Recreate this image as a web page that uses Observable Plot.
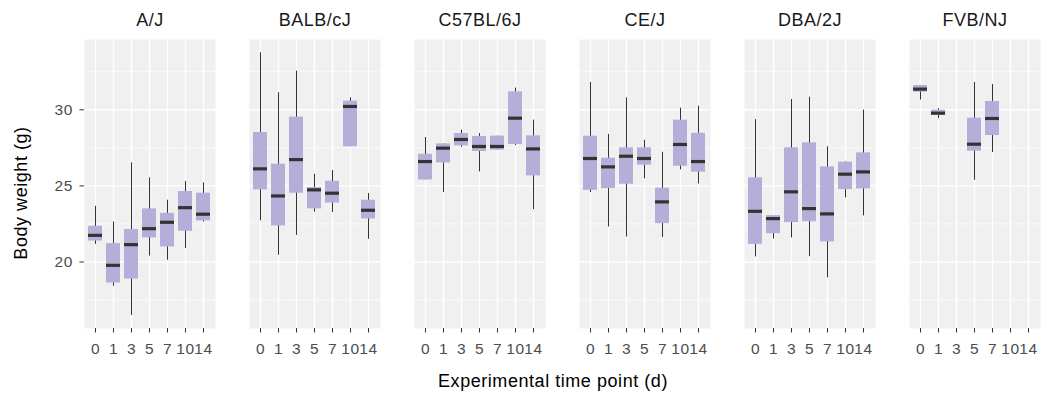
<!DOCTYPE html>
<html>
<head>
<meta charset="utf-8">
<script src="https://cdn.jsdelivr.net/npm/d3@7"></script>
<script src="https://cdn.jsdelivr.net/npm/@observablehq/plot@0.6"></script>
<style>
  html, body { margin: 0; padding: 0; background: white; }
  #wrap { width: 1042px; height: 394px; position: relative; font-family: "Liberation Sans", Arial, sans-serif; }
  #xtitle { position: absolute; left: 553px; top: 372px; transform: translateX(-50%); white-space: nowrap;
            font-size: 18px; line-height: 19px; letter-spacing: 0.55px; color: #000; }
  #ytitle { position: absolute; left: 21px; top: 193px; transform: translate(-50%, -50%) rotate(-90deg); white-space: nowrap;
            font-size: 18px; line-height: 19px; letter-spacing: 0.55px; color: #000; }
  svg [aria-label="fx-axis tick label"] text { letter-spacing: 0.5px; }
  svg [aria-label="x-axis tick label"] text, svg [aria-label="y-axis tick label"] text { letter-spacing: 0.6px; }
</style>
</head>
<body>
<div id="wrap"><div id="chart"></div><div id="ytitle">Body weight (g)</div><div id="xtitle">Experimental time point (d)</div></div>
<script>
const strains = ["A/J", "BALB/cJ", "C57BL/6J", "CE/J", "DBA/2J", "FVB/NJ"];
const timepoints = ["0", "1", "3", "5", "7", "10", "14"];
// five-number summaries per time point: [lower whisker, Q1, median, Q3, upper whisker]; null = no data
const aJ = [
  [21.16, 21.38, 21.75, 22.35, 23.66],
  [18.40, 18.62, 19.78, 21.21, 22.63],
  [16.49, 18.88, 21.14, 22.13, 26.51],
  [20.39, 21.58, 22.19, 23.49, 25.53],
  [20.11, 20.99, 22.61, 23.20, 24.06],
  [20.88, 22.02, 23.57, 24.63, 25.29],
  [22.63, 22.70, 23.14, 24.52, 25.20]];
const balbCJ = [
  [22.70, 24.74, 26.12, 28.51, 33.75],
  [20.44, 22.37, 24.34, 26.43, 31.12],
  [21.75, 24.52, 26.73, 29.52, 32.54],
  [23.27, 23.49, 24.74, 24.89, 25.77],
  [23.25, 23.88, 24.52, 25.31, 26.01],
  [27.57, 27.57, 30.22, 30.57, 30.79],
  [21.49, 22.83, 23.40, 24.06, 24.50]];
const c57BL6J = [
  [25.39, 25.39, 26.60, 27.08, 28.18],
  [24.56, 26.51, 27.48, 27.76, 27.76],
  [27.54, 27.63, 28.05, 28.44, 28.66],
  [25.92, 27.26, 27.59, 28.25, 28.44],
  [27.35, 27.35, 27.59, 28.27, 28.27],
  [27.65, 27.72, 29.45, 31.18, 31.43],
  [23.44, 25.66, 27.43, 28.29, 29.32]];
const ceJ = [
  [24.56, 24.71, 26.80, 28.27, 31.80],
  [22.30, 24.82, 26.25, 26.82, 28.38],
  [21.64, 25.11, 26.95, 27.50, 30.79],
  [25.46, 26.36, 26.80, 27.50, 28.00],
  [21.60, 22.52, 23.95, 24.85, 27.21],
  [26.05, 26.29, 27.72, 29.32, 30.11],
  [25.13, 25.90, 26.60, 28.46, 30.24]];
const dba2J = [
  [20.33, 21.16, 23.33, 25.53, 29.36],
  [21.51, 21.86, 22.85, 23.05, 23.05],
  [21.58, 22.59, 24.61, 27.50, 30.68],
  [20.35, 22.65, 23.51, 27.83, 30.83],
  [18.95, 21.32, 23.16, 26.25, 27.57],
  [24.21, 24.76, 25.77, 26.56, 26.58],
  [23.03, 24.80, 25.92, 27.17, 29.98]];
const fvbNJ = [
  [30.64, 31.16, 31.36, 31.60, 31.60],
  [29.43, 29.63, 29.78, 29.98, 30.07],
  null,
  [25.37, 27.28, 27.74, 29.45, 31.80],
  [27.19, 28.31, 29.43, 30.55, 31.67],
  null,
  null];
const majorY = [20, 25, 30];
const minorY = [17.5, 22.5, 27.5, 32.5];

const summaries = [aJ, balbCJ, c57BL6J, ceJ, dba2J, fvbNJ];
const rows = [];
strains.forEach((s, i) => {
  summaries[i].forEach((v, j) => {
    if (v) rows.push({strain: s, t: timepoints[j], lo: v[0], q1: v[1], med: v[2], q3: v[3], hi: v[4]});
  });
});

const chart = Plot.plot({
  width: 1042,
  height: 366,
  marginLeft: 82,
  marginRight: 1,
  marginTop: 39,
  marginBottom: 38,
  style: {fontFamily: "'Liberation Sans', Arial, sans-serif", background: "white"},
  fx: {domain: strains, paddingInner: 0.207, paddingOuter: 0, label: null},
  x: {domain: timepoints, padding: 0.2, label: null},
  y: {domain: [15.63, 34.62], label: null},
  marks: [
    Plot.frame({fill: "#F0F0F0", stroke: "none"}),
    Plot.gridY(minorY, {stroke: "white", strokeOpacity: 1, strokeWidth: 0.7}),
    Plot.gridY(majorY, {stroke: "white", strokeOpacity: 1, strokeWidth: 1.4}),
    Plot.gridX({stroke: "white", strokeOpacity: 1, strokeWidth: 1.4}),
    Plot.ruleX(rows, {fx: "strain", x: "t", y1: "lo", y2: "hi", stroke: "#333333", strokeWidth: 1}),
    Plot.barY(rows, {fx: "strain", x: "t", y1: "q1", y2: "q3", fill: "#B4AED8"}),
    Plot.tickY(rows, {fx: "strain", x: "t", y: "med", stroke: "#333333", strokeWidth: 3.2}),
    Plot.axisFx({anchor: "top", tickSize: 0, tickPadding: 14, fontSize: 18, fill: "#1A1A1A", label: null}),
    Plot.axisX({anchor: "bottom", tickSize: 4.5, tickPadding: 10, fontSize: 15.5, stroke: "#333333", fill: "#4D4D4D", label: null}),
    Plot.axisY(majorY, {anchor: "left", tickSize: 4.5, tickPadding: 7, fontSize: 15.5, stroke: "#333333", fill: "#4D4D4D", label: null})
  ]
});
document.getElementById("chart").appendChild(chart);
</script>
</body>
</html>
